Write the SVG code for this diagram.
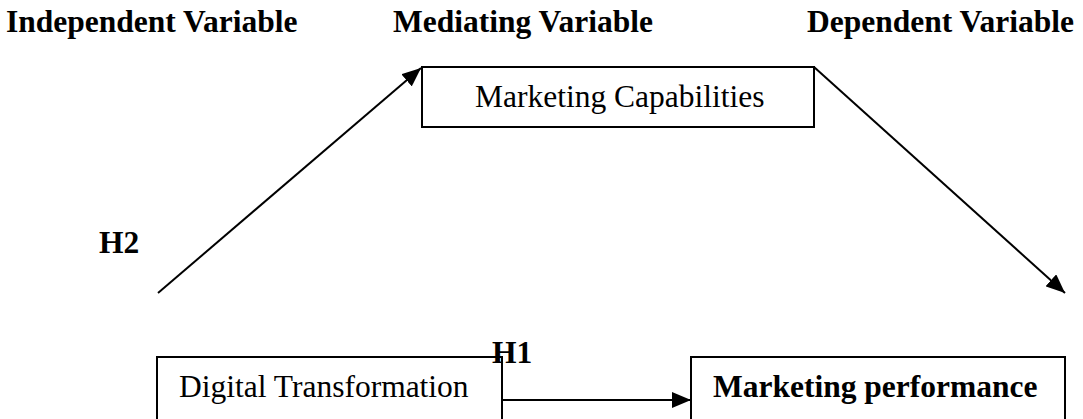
<svg xmlns="http://www.w3.org/2000/svg" width="1083" height="419" viewBox="0 0 1083 419">
<style>
.hdr{font-family:"Liberation Serif","Times New Roman",serif;font-weight:bold;font-size:31.5px;fill:#000}
.lbl{font-family:"Liberation Serif","Times New Roman",serif;font-size:31.5px;fill:#000}
.box{fill:#fff;stroke:#000;stroke-width:2}
.con{stroke:#000;stroke-width:2;fill:none;marker-end:url(#ah)}
</style>
<defs>
<marker id="ah" markerUnits="userSpaceOnUse" markerWidth="20" markerHeight="16" refX="19" refY="8" orient="auto">
<path d="M0,0 L19,8 L0,16 Z" fill="#000"/>
</marker>
</defs>
<rect width="1083" height="419" fill="#fff"/>
<g id="headers">
<text class="hdr" x="6" y="32">Independent Variable</text>
<text class="hdr" x="393" y="32">Mediating Variable</text>
<text class="hdr" x="807" y="32">Dependent Variable</text>
</g>
<g id="connectors">
<line class="con" x1="158" y1="293" x2="421" y2="68"/>
<line class="con" x1="814" y1="67" x2="1065" y2="293"/>
<line class="con" x1="502" y1="400" x2="691" y2="400"/>
</g>
<g id="node-capabilities">
<rect class="box" x="422" y="67" width="392" height="60"/>
<text class="lbl" x="475" y="107">Marketing Capabilities</text>
</g>
<g id="node-digital">
<rect class="box" x="157" y="357" width="345" height="80"/>
<text class="lbl" x="179" y="397">Digital Transformation</text>
</g>
<g id="node-performance">
<rect class="box" x="691" y="357" width="374" height="80"/>
<text class="hdr" x="713" y="397">Marketing performance</text>
</g>
<g id="labels">
<text class="hdr" x="99" y="253">H2</text>
<text class="hdr" x="492" y="363">H1</text>
</g>
</svg>
